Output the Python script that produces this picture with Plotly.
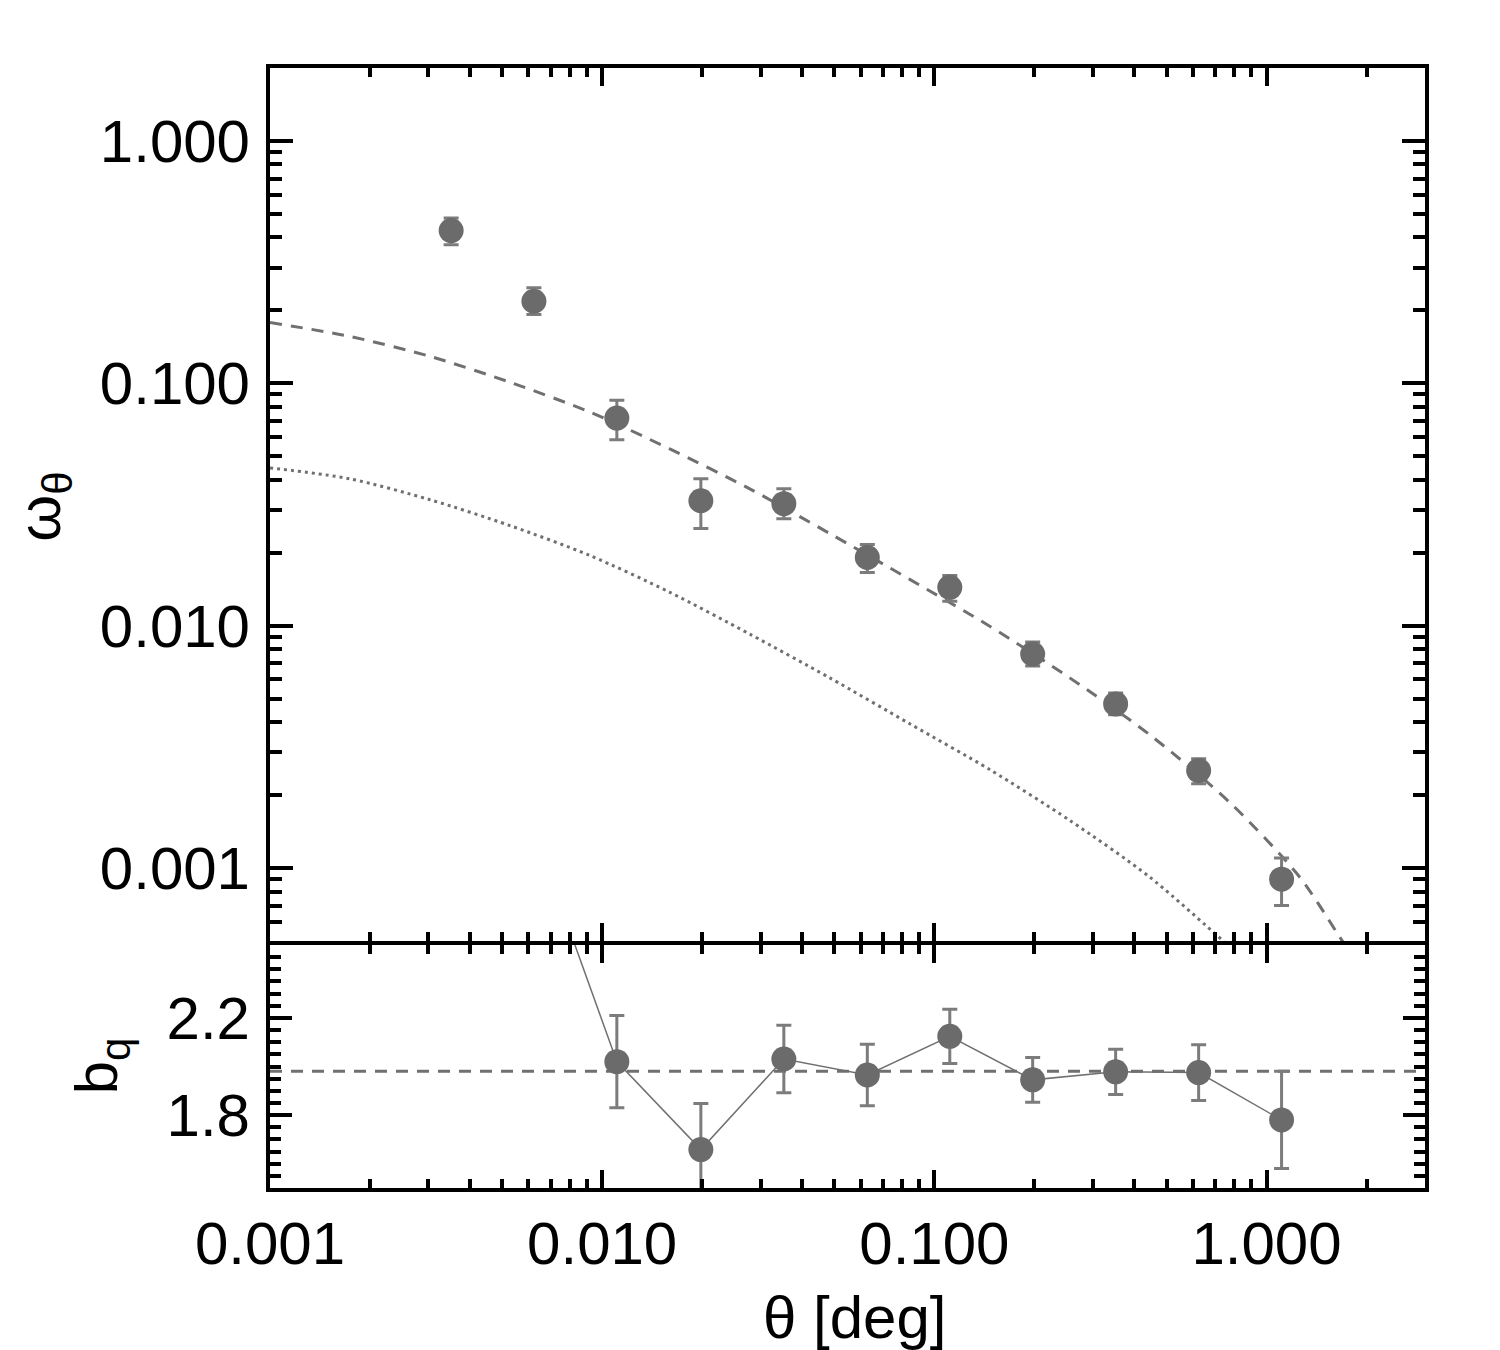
import plotly.graph_objects as go

# ---------------- data ----------------
THETA = [0.00351, 0.00623, 0.01107, 0.01982, 0.03523, 0.06284, 0.1113, 0.1977, 0.3514, 0.6247, 1.110]
W = [0.4268, 0.2181, 0.07188, 0.03278, 0.03186, 0.01911, 0.01439, 0.00764, 0.004757, 0.002525, 0.000900]
W_ERR_HI = [0.0546, 0.0300, 0.0133, 0.00758, 0.00484, 0.00251, 0.00173, 0.00093, 0.00052, 0.00030, 0.00020]
W_ERR_LO = [0.0541, 0.0259, 0.0134, 0.00763, 0.00422, 0.00252, 0.00178, 0.00083, 0.00047, 0.00030, 0.00020]

# model curves (dashed = biased model, dotted = dark matter)
DASH_THETA = [0.001, 0.00174, 0.00303, 0.005277, 0.009183, 0.01598, 0.02782, 0.04844, 0.08433,
              0.1468, 0.2556, 0.4448, 0.7745, 1.258, 1.660, 1.778]
DASH_W = [0.1782, 0.1561, 0.1292, 0.1010, 0.0761, 0.0536, 0.0367, 0.0240, 0.01552,
          0.00995, 0.00609, 0.00355, 0.001866, 0.000918, 0.000520, 0.000451]
DOT_THETA = [0.001, 0.00174, 0.00303, 0.005277, 0.009183, 0.01598, 0.02782, 0.04844, 0.08433,
             0.1468, 0.2556, 0.4448, 0.7745]
DOT_W = [0.04478, 0.04036, 0.03310, 0.02588, 0.01948, 0.01373, 0.00923, 0.00609, 0.003938,
         0.002549, 0.001573, 0.000918, 0.000473]

B_THETA = [0.00623, 0.01107, 0.01982, 0.03523, 0.06284, 0.1113, 0.1977, 0.3514, 0.6247, 1.110]
B_Q = [2.97, 2.020, 1.658, 2.031, 1.965, 2.124, 1.945, 1.978, 1.975, 1.780]
B_ERR = [0.0, 0.19, 0.19, 0.139, 0.127, 0.112, 0.092, 0.093, 0.115, 0.20]
B_REF = 1.98

X_TICKS = [0.001, 0.01, 0.1, 1.0]
X_TICK_TEXT = ["0.001", "0.010", "0.100", "1.000"]
Y_TICKS = [0.001, 0.01, 0.1, 1.0]
Y_TICK_TEXT = ["0.001", "0.010", "0.100", "1.000"]
B_TICKS = [1.6, 1.8, 2.0, 2.2, 2.4]
B_TICK_TEXT = ["", "1.8", "", "2.2", ""]

# ---------------- styling ----------------
FONT = "Liberation Sans, Arial, Helvetica, sans-serif"
PT = "#6b6b6b"
ERR = "#7c7c7c"
LN = "#707070"

log_minor = [m * 10 ** e for e in range(-4, 1) for m in range(2, 10)] + [2.0]
b_minor = [round(1.5 + 0.05 * i, 2) for i in range(21)]

fig = go.Figure()

fig.add_trace(go.Scatter(x=DASH_THETA, y=DASH_W, mode="lines", xaxis="x", yaxis="y",
                         line=dict(color=LN, width=3, dash="12px,9px", shape="spline", smoothing=0.8),
                         hoverinfo="skip"))
fig.add_trace(go.Scatter(x=DOT_THETA, y=DOT_W, mode="lines", xaxis="x", yaxis="y",
                         line=dict(color=LN, width=3, dash="3px,4px", shape="spline", smoothing=0.8),
                         hoverinfo="skip"))
fig.add_trace(go.Scatter(x=THETA, y=W, mode="markers", xaxis="x", yaxis="y",
                         marker=dict(size=25, color=PT),
                         error_y=dict(type="data", symmetric=False, array=W_ERR_HI, arrayminus=W_ERR_LO,
                                      color=ERR, thickness=3, width=7.5)))

fig.add_trace(go.Scatter(x=B_THETA, y=B_Q, mode="lines+markers", xaxis="x2", yaxis="y2",
                         line=dict(color=LN, width=1.5),
                         marker=dict(size=25, color=PT),
                         error_y=dict(type="data", array=B_ERR, color=ERR, thickness=3, width=7.5)))

fig.add_shape(type="line", xref="x2 domain", yref="y2", x0=0, x1=1, y0=B_REF, y1=B_REF,
              line=dict(color=LN, width=3, dash="12px,9px"), layer="below")

LW = 4
common_x = dict(type="log", range=[-3, 0.47712], showgrid=False, zeroline=False,
                showline=True, linewidth=LW, linecolor="black", mirror="allticks",
                ticks="inside", ticklen=18, tickwidth=4, tickcolor="black",
                tickmode="array", tickvals=X_TICKS, ticktext=X_TICK_TEXT,
                minor=dict(tickmode="array", tickvals=log_minor, ticks="inside", ticklen=9,
                           tickwidth=3.5, tickcolor="black", showgrid=False),
                tickfont=dict(family=FONT, size=60, color="black"))

H_PLOT = 1120.0
TOP_LO = (1188 - 941) / H_PLOT
BOT_HI = (1188 - 945) / H_PLOT

fig.update_layout(
    width=1500, height=1350,
    margin=dict(l=270, r=75, t=68, b=162),
    paper_bgcolor="white", plot_bgcolor="white",
    showlegend=False,
    font=dict(family=FONT, color="black"),
    xaxis=dict(common_x, anchor="y", showticklabels=False),
    xaxis2=dict(common_x, anchor="y2", ticklabelstandoff=0),
    yaxis=dict(type="log", domain=[TOP_LO, 1], range=[-3.30103, 0.30103], anchor="x",
               showgrid=False, zeroline=False, showline=True, linewidth=LW, linecolor="black",
               mirror="allticks", ticks="inside", ticklen=23, tickwidth=4, tickcolor="black",
               tickmode="array", tickvals=Y_TICKS, ticktext=Y_TICK_TEXT, ticklabelstandoff=4,
               minor=dict(tickmode="array", tickvals=log_minor, ticks="inside", ticklen=12,
                          tickwidth=3.5, tickcolor="black", showgrid=False),
               tickfont=dict(family=FONT, size=60, color="black")),
    yaxis2=dict(domain=[0, BOT_HI], range=[1.5, 2.5], anchor="x2",
                showgrid=False, zeroline=False, showline=True, linewidth=LW, linecolor="black",
                mirror="allticks", ticks="inside", ticklen=22, tickwidth=4, tickcolor="black",
                tickmode="array", tickvals=B_TICKS, ticktext=B_TICK_TEXT, ticklabelstandoff=4,
                minor=dict(tickmode="array", tickvals=b_minor, ticks="inside", ticklen=11,
                           tickwidth=3.5, tickcolor="black", showgrid=False),
                tickfont=dict(family=FONT, size=60, color="black")),
    annotations=[
        dict(text="ω<sub>θ</sub>", xref="paper", yref="paper", x=-0.196, y=0.608,
             xanchor="center", yanchor="middle", textangle=-90, showarrow=False,
             font=dict(family=FONT, size=60, color="black")),
        dict(text="b<sub>q</sub>", xref="paper", yref="paper", x=-0.146, y=0.109,
             xanchor="center", yanchor="middle", textangle=-90, showarrow=False,
             font=dict(family=FONT, size=60, color="black")),
        dict(text="θ [deg]", xref="paper", yref="paper", x=0.5065, y=-0.1152,
             xanchor="center", yanchor="middle", showarrow=False,
             font=dict(family=FONT, size=60, color="black")),
    ],
)

fig.write_html("out.html")
